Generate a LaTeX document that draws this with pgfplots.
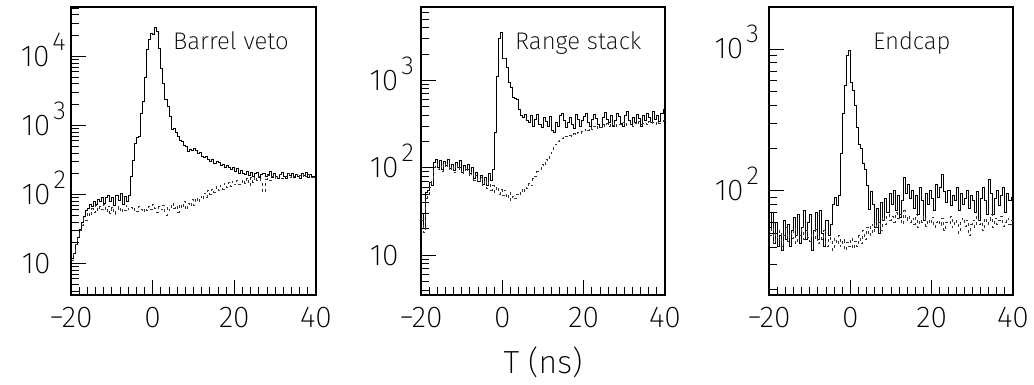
\documentclass[border=0pt]{standalone}
\usepackage{pgfplots}
\pgfplotsset{compat=1.18}
\usepackage{pgfplotstable}
\usepackage{fontspec}
\setmainfont{Fira Sans ExtraLight}

% ---------- Barrel veto ----------
\pgfplotstableread[row sep=\\]{
y\\
12\\14\\19\\24\\31\\40\\48\\58\\62\\72\\
66\\80\\72\\86\\78\\92\\75\\90\\96\\78\\
92\\70\\98\\82\\102\\72\\94\\80\\96\\180\\
315\\540\\660\\700\\1500\\2250\\4900\\12500\\17500\\21700\\
20500\\26400\\23000\\13200\\6800\\4100\\2350\\1900\\1350\\870\\
920\\780\\690\\600\\590\\520\\490\\420\\450\\430\\
460\\430\\395\\400\\360\\340\\355\\320\\305\\325\\
285\\300\\290\\260\\275\\250\\265\\245\\230\\250\\
215\\235\\205\\225\\200\\195\\218\\190\\210\\185\\
200\\212\\178\\195\\205\\180\\192\\215\\175\\200\\
185\\170\\198\\210\\180\\172\\200\\190\\205\\175\\
195\\185\\170\\200\\190\\210\\178\\195\\185\\180\\
180\\
}\sA
\pgfplotstableread[row sep=\\]{
y\\
11\\14\\19\\24\\30\\36\\45\\42\\55\\48\\
62\\55\\70\\58\\66\\60\\72\\56\\68\\54\\
64\\52\\60\\66\\55\\62\\58\\70\\60\\64\\
58\\62\\56\\66\\60\\55\\63\\58\\67\\60\\
72\\62\\55\\66\\60\\70\\50\\65\\58\\75\\
62\\68\\55\\72\\63\\80\\60\\75\\68\\85\\
70\\90\\78\\95\\85\\105\\92\\115\\100\\120\\
108\\130\\115\\135\\120\\145\\128\\150\\130\\155\\
138\\160\\140\\150\\165\\145\\170\\135\\175\\150\\
180\\160\\185\\155\\105\\165\\190\\160\\185\\170\\
190\\175\\195\\170\\185\\180\\200\\175\\190\\180\\
195\\175\\190\\185\\200\\180\\195\\185\\175\\180\\
180\\
}\dA

% ---------- Range stack ----------
\pgfplotstableread[row sep=\\]{
y\\
30\\20\\52\\55\\68\\62\\115\\125\\100\\120\\
95\\118\\105\\125\\98\\110\\92\\115\\100\\120\\
88\\105\\95\\110\\85\\100\\75\\88\\70\\82\\
65\\78\\62\\85\\72\\95\\250\\1100\\3000\\3500\\
1800\\1800\\1400\\940\\820\\630\\620\\600\\460\\400\\
380\\410\\345\\330\\395\\300\\360\\410\\315\\290\\
375\\340\\300\\390\\270\\255\\330\\300\\395\\420\\
350\\290\\330\\375\\310\\280\\405\\360\\300\\345\\
390\\420\\330\\300\\355\\410\\370\\310\\290\\380\\
430\\360\\330\\395\\300\\345\\420\\385\\320\\300\\
400\\440\\350\\315\\380\\330\\410\\365\\300\\395\\
350\\420\\380\\330\\440\\360\\400\\340\\420\\460\\
460\\
}\sB
\pgfplotstableread[row sep=\\]{
y\\
25\\18\\45\\50\\60\\70\\100\\110\\95\\105\\
90\\112\\100\\118\\92\\105\\88\\110\\95\\100\\
85\\98\\90\\95\\80\\90\\72\\82\\68\\78\\
62\\72\\58\\68\\55\\62\\52\\60\\50\\56\\
48\\55\\45\\52\\42\\47\\44\\50\\48\\56\\
52\\60\\58\\66\\62\\75\\80\\90\\95\\110\\
105\\125\\120\\140\\150\\170\\185\\200\\210\\215\\
220\\230\\225\\235\\230\\245\\240\\255\\245\\260\\
265\\280\\270\\290\\275\\300\\285\\305\\290\\310\\
300\\320\\295\\310\\305\\325\\300\\315\\310\\330\\
305\\320\\315\\330\\300\\325\\310\\335\\315\\320\\
325\\310\\335\\320\\330\\315\\340\\325\\330\\345\\
345\\
}\dB

% ---------- Endcap ----------
\pgfplotstableread[row sep=\\]{
y\\
55\\70\\42\\60\\40\\48\\38\\62\\45\\58\\
40\\52\\65\\48\\68\\42\\55\\72\\45\\60\\
68\\38\\52\\70\\45\\72\\50\\40\\62\\48\\
58\\80\\90\\78\\92\\183\\350\\550\\900\\980\\
580\\510\\400\\280\\210\\200\\155\\140\\108\\73\\
98\\80\\55\\75\\50\\82\\62\\88\\70\\95\\
80\\100\\72\\92\\65\\85\\124\\95\\110\\88\\
100\\75\\92\\68\\105\\85\\62\\95\\80\\100\\
88\\72\\110\\90\\106\\130\\98\\82\\100\\78\\
92\\85\\105\\72\\95\\80\\88\\100\\75\\92\\
85\\70\\98\\62\\88\\105\\85\\68\\120\\95\\
68\\88\\100\\78\\92\\105\\70\\95\\85\\90\\
90\\
}\sC
\pgfplotstableread[row sep=\\]{
y\\
48\\55\\42\\50\\45\\52\\40\\48\\55\\44\\
50\\46\\54\\42\\50\\48\\56\\45\\52\\47\\
44\\50\\46\\53\\42\\48\\45\\52\\40\\47\\
44\\38\\46\\42\\48\\40\\45\\38\\43\\40\\
46\\39\\44\\40\\48\\42\\52\\45\\55\\48\\
58\\50\\62\\55\\60\\52\\65\\58\\68\\62\\
66\\60\\70\\64\\68\\58\\72\\62\\66\\60\\
64\\58\\68\\55\\62\\60\\66\\56\\62\\58\\
65\\55\\60\\62\\57\\64\\52\\60\\58\\66\\
55\\62\\58\\50\\60\\64\\56\\62\\48\\58\\
62\\55\\66\\58\\60\\52\\64\\58\\62\\68\\
55\\64\\58\\62\\66\\56\\60\\64\\58\\62\\
62\\
}\dC

\newcommand{\tenp}[1]{10\hspace{3pt}\smash{\raisebox{16pt}{\fontsize{26}{26}\selectfont #1}}}
\newcommand{\tenz}{10\hspace{3pt}\phantom{\fontsize{26}{26}\selectfont 2}}
\newcommand{\tklfont}{\fontsize{30}{30}\selectfont}
\newcommand{\ttlfont}{\fontsize{24}{24}\selectfont}
\newcommand{\xlfont}{\fontsize{32}{32}\selectfont}

\begin{document}
\begin{tikzpicture}
\pgfplotsset{
  every axis/.append style={
    scale only axis, height=288pt,
    xmin=-20, xmax=40,
    xtick={-20,0,20,40}, xticklabels={−20,0,20,40},
    minor x tick num=9,
    xtick pos=bottom, ytick pos=left, tick align=inside,
    major tick length=15pt, minor tick length=8pt,
    axis line style={line width=1.3pt},
    every tick/.style={black, line width=0.8pt},
    tick label style={font=\tklfont},
    xticklabel style={inner sep=0pt, anchor=north, yshift=-12pt},
    yticklabel style={inner sep=0pt, anchor=east},
  },
}
% ----- panel 1 -----
\begin{axis}[ymode=log, at={(71pt,90pt)}, anchor=south west, width=245pt,
  ymin=3.5, ymax=52000,
  ytick={10,100,1000,10000},
  yticklabels={\tenz,\tenp{2},\tenp{3},\tenp{4}},
  minor ytick={4,5,6,7,8,9,20,30,40,50,60,70,80,90,200,300,400,500,600,700,800,900,2000,3000,4000,5000,6000,7000,8000,9000,20000,30000,40000,50000},
  yticklabel style={xshift=-5pt},
]
\addplot[const plot mark left, black, line width=0.9pt, no marks] table[x expr=\coordindex*0.5-20, y=y] {\sA};
\addplot[const plot mark left, black!80, line width=0.9pt, no marks, dash pattern=on 3pt off 3.5pt] table[x expr=\coordindex*0.5-20, y=y] {\dA};
\node[anchor=base west, inner sep=0pt, font=\ttlfont] at (rel axis cs:0.416,0.851) {Barrel veto};
\end{axis}
% ----- panel 2 -----
\begin{axis}[ymode=log, at={(421pt,90pt)}, anchor=south west, width=244pt,
  ymin=3.5, ymax=6900,
  ytick={10,100,1000},
  yticklabels={\tenz,\tenp{2},\tenp{3}},
  minor ytick={4,5,6,7,8,9,20,30,40,50,60,70,80,90,200,300,400,500,600,700,800,900,2000,3000,4000,5000,6000},
  yticklabel style={xshift=-7pt},
  xlabel={T (ns)},
  xlabel style={at={(rel axis cs:0.5,0)}, anchor=center, yshift=-67pt, font=\xlfont},
]
\addplot[const plot mark left, black, line width=0.9pt, no marks] table[x expr=\coordindex*0.5-20, y=y] {\sB};
\addplot[const plot mark left, black!80, line width=0.9pt, no marks, dash pattern=on 3pt off 3.5pt] table[x expr=\coordindex*0.5-20, y=y] {\dB};
\node[anchor=base west, inner sep=0pt, font=\ttlfont] at (rel axis cs:0.385,0.851) {Range stack};
\end{axis}
% ----- panel 3 -----
\begin{axis}[ymode=log, at={(769pt,90pt)}, anchor=south west, width=244pt,
  ymin=18.3, ymax=1980,
  ytick={100,1000},
  yticklabels={\tenp{2},\tenp{3}},
  minor ytick={20,30,40,50,60,70,80,90,200,300,400,500,600,700,800,900},
  yticklabel style={xshift=-10pt},
]
\addplot[const plot mark left, black, line width=0.9pt, no marks] table[x expr=\coordindex*0.5-20, y=y] {\sC};
\addplot[const plot mark left, black!80, line width=0.9pt, no marks, dash pattern=on 3pt off 3.5pt] table[x expr=\coordindex*0.5-20, y=y] {\dC};
\node[anchor=base west, inner sep=0pt, font=\ttlfont] at (rel axis cs:0.426,0.851) {Endcap};
\end{axis}
\pgfresetboundingbox
\path[use as bounding box] (0pt,0pt) rectangle (1034pt,385pt);
\end{tikzpicture}
\end{document}
